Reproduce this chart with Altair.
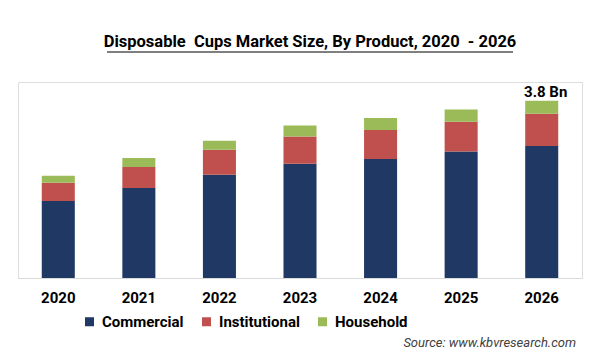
import altair as alt
import pandas as pd

years = ["2020", "2021", "2022", "2023", "2024", "2025", "2026"]
commercial = [1.65, 1.93, 2.21, 2.45, 2.55, 2.71, 2.83]
institutional = [0.39, 0.45, 0.54, 0.58, 0.62, 0.64, 0.69]
household = [0.15, 0.19, 0.19, 0.24, 0.26, 0.26, 0.28]
segments = ["Commercial", "Institutional", "Household"]
colors = ["#1f3864", "#c0504d", "#9bbb59"]

title_text = "Disposable\u00a0 Cups Market Size, By Product, 2020\u00a0 - 2026"
source_text = "Source: www.kbvresearch.com"
last_label = "3.8 Bn"

rows = []
for i, y in enumerate(years):
    for k, (seg, vals) in enumerate(zip(segments, [commercial, institutional, household])):
        rows.append({"year": y, "segment": seg, "value": vals[i], "idx": k})
df = pd.DataFrame(rows)

FONT = "Roboto"
W, H = 564, 196

x_enc = alt.X("year:N", sort=years,
              scale=alt.Scale(paddingInner=0.59, paddingOuter=0.295),
              axis=alt.Axis(title=None, labelAngle=0, ticks=False, domainColor="#d9d9d9",
                            domainWidth=1, labelFont=FONT, labelFontSize=15,
                            labelFontWeight="bold", labelColor="#000000", labelPadding=12))
y_scale = alt.Scale(domain=[0, 4.2])

bars = alt.Chart(df).mark_bar().encode(
    x=x_enc,
    y=alt.Y("value:Q", stack="zero", scale=y_scale, axis=None),
    color=alt.Color("segment:N", sort=segments,
                    scale=alt.Scale(domain=segments, range=colors),
                    legend=alt.Legend(title=None, orient="none", direction="horizontal",
                                      legendX=64, legendY=232, symbolType="square",
                                      symbolSize=81, symbolStrokeWidth=0,
                                      labelFont=FONT, labelFontSize=15, labelFontWeight="bold",
                                      labelColor="#000000", labelOffset=5, columnPadding=15,
                                      padding=0)),
    order=alt.Order("idx:Q", sort="ascending"),
)

totals = alt.Chart(df).transform_aggregate(
    total="sum(value)", groupby=["year"]
).transform_filter(
    alt.datum.year == years[-1]
).transform_calculate(
    lbl="'" + last_label + "'"
).mark_text(font=FONT, fontSize=15, fontWeight="bold", color="#000000",
            baseline="bottom", dy=-1, dx=4).encode(
    x=alt.X("year:N", sort=years),
    y=alt.Y("total:Q", scale=y_scale),
    text="lbl:N",
)

meta = pd.DataFrame({"title": [title_text], "source": [source_text]})

title = alt.Chart(meta).mark_text(font=FONT, fontSize=16.5, fontWeight="bold", color="#000000",
                                  align="center", baseline="middle").encode(
    x=alt.value(292), y=alt.value(-40), text="title:N")

underline = alt.Chart(meta).mark_rule(color="#000000", strokeWidth=1).encode(
    x=alt.value(89), x2=alt.value(495), y=alt.value(-30))

source = alt.Chart(meta).mark_text(font=FONT, fontSize=13, fontStyle="italic", color="#404040",
                                   align="right", baseline="middle").encode(
    x=alt.value(558), y=alt.value(261), text="source:N")

chart = alt.layer(bars, totals, title, underline, source).properties(
    width=W, height=H,
    autosize=alt.AutoSizeParams(type="none"),
    padding={"left": 10, "top": 74, "right": 10, "bottom": 75},
).configure_view(stroke=None).configure(background="#ffffff")

chart.save("out.html", embed_options={"renderer": "svg", "actions": False})
